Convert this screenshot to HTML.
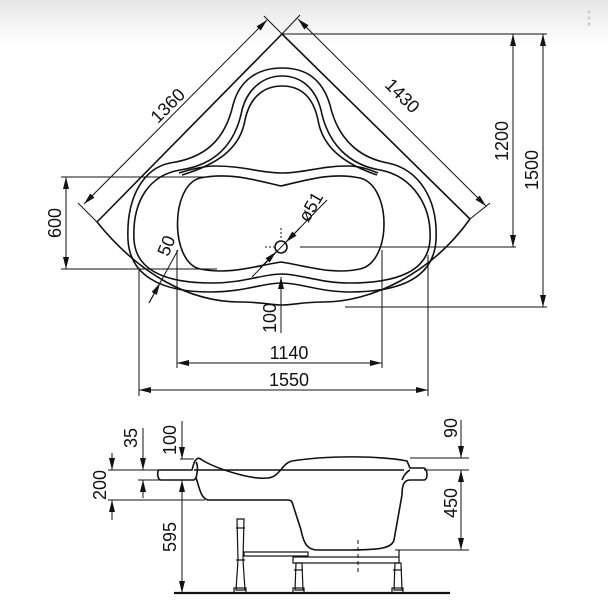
<!DOCTYPE html>
<html><head><meta charset="utf-8"><style>
html,body{margin:0;padding:0;background:#fff;}
svg{display:block;}
text{font-family:"Liberation Sans",Arial,sans-serif;font-size:18px;fill:#111;}
</style></head><body>
<svg width="608" height="610" viewBox="0 0 608 610" xmlns="http://www.w3.org/2000/svg">
<defs>
<linearGradient id="g" x1="0" y1="0" x2="0" y2="1"><stop offset="0" stop-color="#e6e6e6"/><stop offset="1" stop-color="#fff"/></linearGradient>
<marker id="a" viewBox="0 0 12 6" refX="12" refY="3" markerWidth="12" markerHeight="6" markerUnits="userSpaceOnUse" orient="auto-start-reverse"><path d="M0,0 L12,3 L0,6 Z" fill="#111"/></marker>
</defs>
<rect x="0" y="0" width="608" height="45" fill="url(#g)"/>
<circle cx="589" cy="12" r="1.5" fill="#ccc"/><circle cx="589" cy="18" r="1.5" fill="#ccc"/><circle cx="589" cy="24" r="1.5" fill="#ccc"/>

<g fill="none" stroke="#111" stroke-width="1.6">
<path d="M97,222 L282,34 L470,219"/>
<path d="M97,222 C140,275 190,302 240,302 C262,302 270,305 282,305 C294,305 302,302 324,302 C370,302 430,275 470,219"/>
<path d="M128,240 C126,195 145,168 170,163 C205,158 225,140 233,105 C240,78 260,68 282,68 C305,68 322,78 330,105 C338,140 360,158 388,163 C420,170 438,200 436,240 C434,275 405,292 350,292 C320,292 300,283 282,283 C262,283 245,292 210,292 C160,292 130,275 128,240 Z"/>
<path d="M134,240 C132,200 150,175 180,170 C215,165 235,145 242,110 C248,87 265,76 282,76 C300,76 315,87 321,110 C328,145 350,165 380,170 C412,176 432,205 430,240 C428,270 400,283 349,283 C320,283 300,274 282,274 C262,274 245,283 212,283 C165,283 136,270 134,240 Z"/>
<path d="M182,175 C215,165 240,150 245,120 C250,96 265,86 282,86 C300,86 313,96 318,120 C323,150 348,165 377,175"/>
<path d="M179,173 C195,168 205,166 215,166 C245,166 260,173 282,173 C305,173 320,166 347,166 C360,166 368,169 378,173"/>
<path d="M200,178 C230,172 255,180 281,186 C307,180 332,172 360,178 C392,186 392,262 360,269 C332,275 307,266 281,262 C255,266 230,275 200,269 C170,262 170,186 200,178 Z"/>
<circle cx="281" cy="247" r="6"/>
</g>

<g stroke="#111" stroke-width="1" fill="none">
<line x1="97" y1="222" x2="78" y2="203"/><line x1="282" y1="34" x2="264" y2="16"/>
<line x1="267" y1="20" x2="84" y2="204" marker-start="url(#a)" marker-end="url(#a)"/>
<line x1="470" y1="219" x2="490" y2="203"/><line x1="282" y1="34" x2="300" y2="15"/>
<line x1="298" y1="19" x2="486" y2="206" marker-start="url(#a)" marker-end="url(#a)"/>
<line x1="282" y1="34" x2="547" y2="34"/>
<line x1="300" y1="247" x2="516" y2="247"/>
<line x1="345" y1="307" x2="547" y2="307"/>
<line x1="513" y1="34" x2="513" y2="247" marker-start="url(#a)" marker-end="url(#a)"/>
<line x1="543" y1="34" x2="543" y2="307" marker-start="url(#a)" marker-end="url(#a)"/>
<line x1="61" y1="177" x2="210" y2="177"/><line x1="61" y1="269" x2="217" y2="269"/>
<line x1="66" y1="177" x2="66" y2="269" marker-start="url(#a)" marker-end="url(#a)"/>
<line x1="177" y1="250" x2="177" y2="368"/><line x1="382" y1="250" x2="382" y2="368"/>
<line x1="139" y1="270" x2="139" y2="396"/><line x1="428" y1="255" x2="428" y2="396"/>
<line x1="177" y1="363" x2="382" y2="363" marker-start="url(#a)" marker-end="url(#a)"/>
<line x1="139" y1="390" x2="428" y2="390" marker-start="url(#a)" marker-end="url(#a)"/>
<line x1="281" y1="333" x2="281" y2="277" marker-end="url(#a)"/>
<line x1="281" y1="228" x2="281" y2="240" stroke-dasharray="2,2"/>
<line x1="265" y1="247" x2="274" y2="247" stroke-dasharray="2,2"/>
<line x1="149" y1="303" x2="178" y2="250"/>
<line x1="149" y1="303" x2="160" y2="283" marker-end="url(#a)"/>
<line x1="252" y1="277" x2="327" y2="200"/>
<line x1="260" y1="268" x2="276" y2="252" marker-end="url(#a)"/>
<line x1="300" y1="228" x2="286" y2="242" marker-end="url(#a)"/>
</g>

<g>
<text transform="translate(172,110) rotate(-45)" text-anchor="middle">1360</text>
<text transform="translate(398,100) rotate(45)" text-anchor="middle">1430</text>
<text transform="translate(508,141) rotate(-90)" text-anchor="middle">1200</text>
<text transform="translate(538,170) rotate(-90)" text-anchor="middle">1500</text>
<text transform="translate(61,223) rotate(-90)" text-anchor="middle">600</text>
<text x="289" y="359" text-anchor="middle">1140</text>
<text x="289" y="386" text-anchor="middle">1550</text>
<text transform="translate(276,318) rotate(-90)" text-anchor="middle">100</text>
<text transform="translate(172,248) rotate(-68)" text-anchor="middle">50</text>
<text transform="translate(316,210) rotate(-60)" text-anchor="middle">ø51</text>
</g>

<g fill="none" stroke="#111" stroke-width="1.6">
<path d="M159,470 L192,470 L194,463 C196,458 199,457 202,460 C215,468 250,480 268,478 C280,477 282,463 292,461 C330,455 380,456 407,461 L410,468 L424,468 C428,470 428,480 424,480 L410,480 C404,480 402,485 402,495 L394,540 C392,548 380,550 350,550 L318,550 C308,550 304,545 301,530 L293,505 C292,500 290,500 286,500 L208,500 C200,498 199,485 196,478 L194,480 L161,480 C157,480 157,470 159,470 Z"/>
<path d="M196,478 C198,470 198,465 196,462"/>
<path d="M194,470 L404,470"/>
<path d="M402,480 C404,475 406,472 410,470"/>
</g>
<g fill="none" stroke="#111" stroke-width="1.2">
<rect x="244" y="552" width="64" height="4"/>
<rect x="293" y="557" width="106" height="6"/>
<path d="M237,519 L244,519 L243,560 L245,590 L236,590 L238,560 Z"/>
<path d="M296,563 L302,563 L303,590 L295,590 Z"/>
<path d="M395,563 L401,563 L402,590 L394,590 Z"/>
<rect x="234" y="588" width="12" height="5"/>
<rect x="293" y="588" width="11" height="5"/>
<rect x="392" y="588" width="11" height="5"/>
<line x1="236" y1="528" x2="245" y2="528"/><line x1="236" y1="560" x2="245" y2="560"/>
<line x1="294" y1="570" x2="303" y2="570"/><line x1="393" y1="570" x2="402" y2="570"/>
<line x1="399" y1="550" x2="399" y2="557"/>
</g>
<line x1="174" y1="593" x2="450" y2="593" stroke="#111" stroke-width="2.2"/>
<line x1="358" y1="540" x2="358" y2="575" stroke="#111" stroke-width="1" stroke-dasharray="4,3"/>

<g stroke="#111" stroke-width="1" fill="none">
<line x1="108" y1="470" x2="159" y2="470"/>
<line x1="108" y1="500" x2="205" y2="500"/>
<line x1="138" y1="480" x2="159" y2="480"/>
<line x1="180" y1="459" x2="194" y2="459"/>
<line x1="410" y1="458" x2="469" y2="458"/>
<line x1="424" y1="470" x2="469" y2="470"/>
<line x1="395" y1="550" x2="469" y2="550"/>
<line x1="112" y1="453" x2="112" y2="470" marker-end="url(#a)"/>
<line x1="112" y1="520" x2="112" y2="500" marker-end="url(#a)"/>
<line x1="143" y1="428" x2="143" y2="470" marker-end="url(#a)"/>
<line x1="143" y1="498" x2="143" y2="480" marker-end="url(#a)"/>
<line x1="182" y1="421" x2="182" y2="459" marker-end="url(#a)"/>
<line x1="182" y1="480" x2="182" y2="593" marker-start="url(#a)" marker-end="url(#a)"/>
<line x1="461" y1="420" x2="461" y2="458" marker-end="url(#a)"/>
<line x1="461" y1="470" x2="461" y2="550" marker-start="url(#a)" marker-end="url(#a)"/>
</g>
<g>
<text transform="translate(106,485) rotate(-90)" text-anchor="middle">200</text>
<text transform="translate(137,438) rotate(-90)" text-anchor="middle">35</text>
<text transform="translate(176,440) rotate(-90)" text-anchor="middle">100</text>
<text transform="translate(176,537) rotate(-90)" text-anchor="middle">595</text>
<text transform="translate(457,428) rotate(-90)" text-anchor="middle">90</text>
<text transform="translate(457,503) rotate(-90)" text-anchor="middle">450</text>
</g>
</svg>
</body></html>
